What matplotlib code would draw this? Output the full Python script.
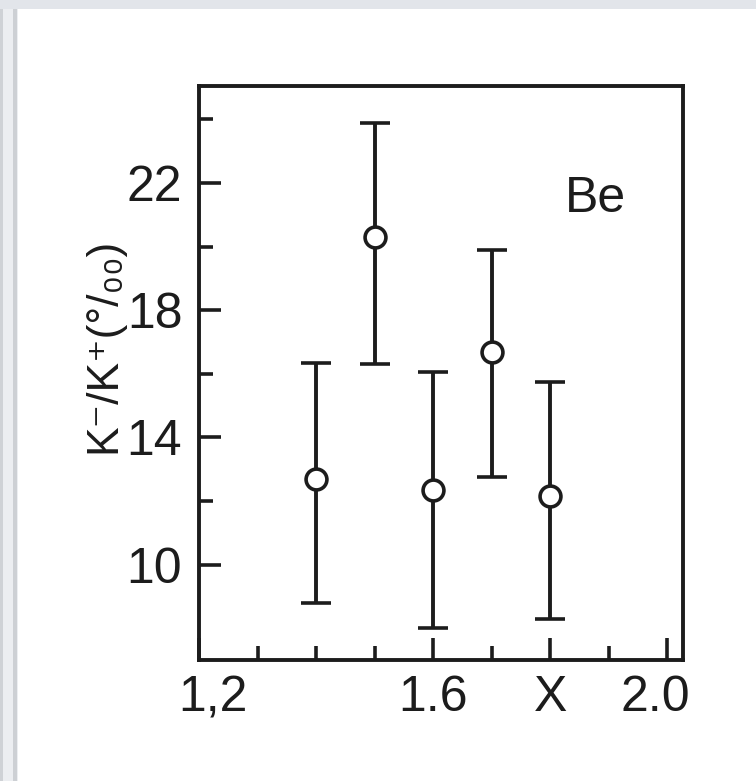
import matplotlib
matplotlib.use("Agg")
import matplotlib.pyplot as plt
from matplotlib.patches import Rectangle
from matplotlib.transforms import ScaledTranslation
import numpy as np

plt.rcParams['font.family'] = ['Liberation Sans Narrow', 'Liberation Sans', 'DejaVu Sans']

# data
x_vals = [1.4, 1.5, 1.6, 1.7, 1.8]
y_vals = [12.7, 20.3, 12.35, 16.7, 12.15]
y_low = [8.8, 16.3, 8.0, 12.75, 8.3]
y_high = [16.35, 23.9, 16.05, 19.9, 15.75]

x_ticks_major = [1.2, 1.6, 1.8, 2.0]
x_tick_labels = ["1,2", "1.6", "X", "2.0"]
x_ticks_minor = [1.3, 1.4, 1.5, 1.7, 1.9]
y_ticks_major = [10, 14, 18, 22]
y_tick_labels = ["10", "14", "18", "22"]
y_ticks_minor = [12, 16, 20, 24]
ylabel = "K\u207b/K\u207a(°/\u2080\u2080)"
panel_label = "Be"

W, H = 756, 781
fig = plt.figure(figsize=(W / 100, H / 100), dpi=100)
fig.patch.set_facecolor('white')

# screenshot frame decoration
fig.patches.append(Rectangle((0, 1 - 9 / H), 1, 9 / H, transform=fig.transFigure,
                             facecolor='#e2e5ea', edgecolor='none', zorder=0))
fig.patches.append(Rectangle((0, 0), 18 / W, 1 - 9 / H, transform=fig.transFigure,
                             facecolor='#eceef1', edgecolor='none', zorder=0))
fig.patches.append(Rectangle((0, 0), 3 / W, 1 - 9 / H, transform=fig.transFigure,
                             facecolor='#cfd2d6', edgecolor='none', zorder=0))
fig.patches.append(Rectangle((13 / W, 0), 4 / W, 1 - 9 / H, transform=fig.transFigure,
                             facecolor='#cdd0d4', edgecolor='none', zorder=0))

ax = fig.add_axes([199 / W, 1 - 660 / H, (683 - 199) / W, (660 - 86) / H])
ink = '#1c1c1c'

yv = np.array(y_vals)
err = [yv - np.array(y_low), np.array(y_high) - yv]
ax.errorbar(x_vals, y_vals, yerr=err, fmt='o', color=ink, ecolor=ink,
            elinewidth=2.8, capsize=11, capthick=4,
            markersize=15, markerfacecolor='white', markeredgecolor=ink,
            markeredgewidth=2.6, zorder=3)

ax.set_xlim(1.2, 2.027)
ax.set_ylim(7.0, 25.05)

ax.set_xticks(x_ticks_major)
ax.set_xticklabels(x_tick_labels)
ax.set_xticks(x_ticks_minor, minor=True)
ax.set_yticks(y_ticks_major)
ax.set_yticklabels(y_tick_labels)
ax.set_yticks(y_ticks_minor, minor=True)

for s in ax.spines.values():
    s.set_linewidth(2.8)
    s.set_color(ink)

ax.tick_params(axis='both', which='major', direction='in', length=16, width=2.6,
               color=ink, labelsize=36, labelcolor=ink)
ax.tick_params(axis='both', which='minor', direction='in', length=10, width=2.6,
               color=ink)
ax.tick_params(axis='x', which='major', pad=11)
ax.tick_params(axis='y', which='major', pad=12)
ax.tick_params(top=False, right=False)

# shift edge labels slightly as in the reference
xl = ax.get_xticklabels()
xl[0].set_transform(xl[0].get_transform() + ScaledTranslation(14 / 100, 0, fig.dpi_scale_trans))
xl[3].set_transform(xl[3].get_transform() + ScaledTranslation(-12 / 100, 0, fig.dpi_scale_trans))

ax.text(1.877, 21.5, panel_label, fontsize=36, color=ink, ha='center', va='center')

fig.text(104 / W, 1 - 345 / H, ylabel, rotation=90, ha='center', va='center',
         fontsize=32, color=ink)

fig.savefig('out.png', dpi=100, facecolor=fig.get_facecolor())
